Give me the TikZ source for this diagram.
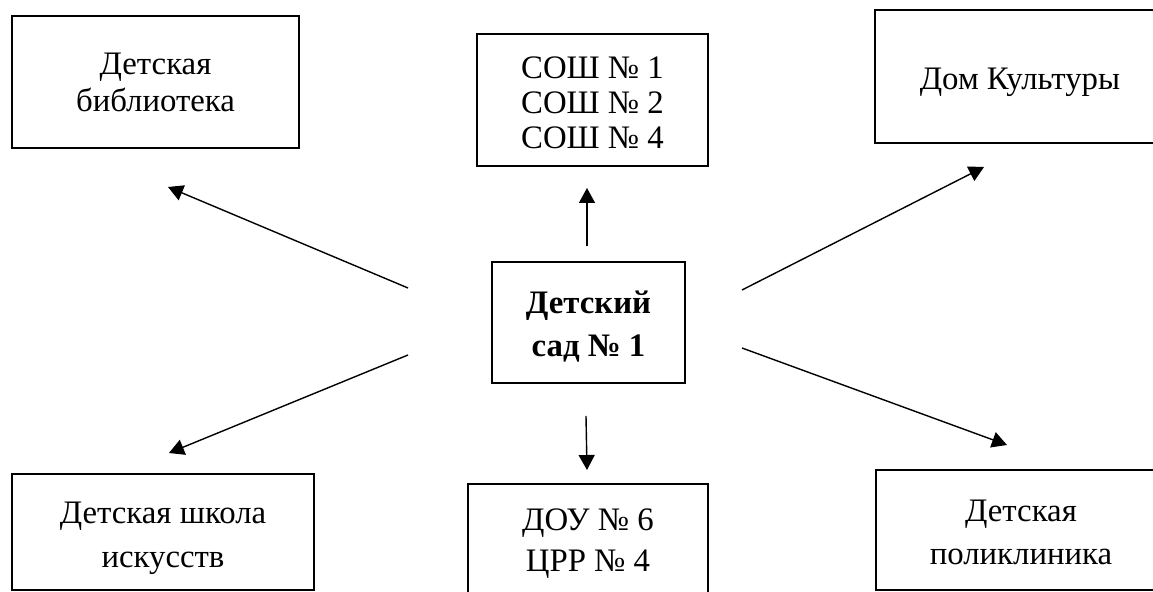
\documentclass[tikz,border=0pt]{standalone}
\usepackage{fontspec}
\setmainfont{Liberation Serif}
\usetikzlibrary{arrows.meta}
\begin{document}
\begin{tikzpicture}[x=0.5pt,y=-0.5pt,
  box/.style={draw=black,line width=0.9pt,rectangle,inner sep=0pt,anchor=center},
  txt/.style={inner sep=0pt,align=center,anchor=center},
  link/.style={line width=0.7pt,-{Triangle[length=7.5pt,width=8pt]}},
  fs/.style={font=\fontsize{16.4}{#1}\selectfont},
  fb/.style={font=\fontsize{16.4}{#1}\selectfont\bfseries}]
\useasboundingbox (0,0) rectangle (1153,592);
\clip (0,0) rectangle (1153,592);
\node[box,minimum width=143.5pt,minimum height=66pt] (lib) at (155.5,82) {};
\node[txt,fs=18.5] (lib-t) at ([yshift=0pt]lib.center) {Детская\\библиотека};
\node[box,minimum width=115.5pt,minimum height=66pt] (sosh) at (592.5,100) {};
\node[txt,fs=17.5] (sosh-t) at ([yshift=-1.5pt]sosh.center) {СОШ № 1\\СОШ № 2\\СОШ № 4};
\node[box,minimum width=145pt,minimum height=66.5pt] (dom) at (1020,76.5) {};
\node[txt,fs=18] (dom-t) at ([yshift=-3pt]dom.center) {Дом Культуры};
\node[box,minimum width=96.5pt,minimum height=60.5pt] (ds) at (588.5,322.5) {};
\node[txt,fb=21.5] (ds-t) at ([yshift=-2pt]ds.center) {Детский\\сад № 1};
\node[box,minimum width=151pt,minimum height=58pt] (arts) at (163,532) {};
\node[txt,fs=22] (arts-t) at ([yshift=-3pt]arts.center) {Детская школа\\искусств};
\node[box,minimum width=120pt,minimum height=58.5pt] (dou) at (588,542.5) {};
\node[txt,fs=20.5] (dou-t) at ([yshift=-0.5pt]dou.center) {ДОУ № 6\\ЦРР № 4};
\node[box,minimum width=145pt,minimum height=60pt] (poly) at (1021,530) {};
\node[txt,fs=21.5] (poly-t) at ([yshift=-1pt]poly.center) {Детская\\поликлиника};
\coordinate (s1) at (408,288); \coordinate (t1) at (168,187);
\coordinate (s2) at (587,246); \coordinate (t2) at (587,188);
\coordinate (s3) at (742,290); \coordinate (t3) at (984,167);
\coordinate (s4) at (408,355); \coordinate (t4) at (169,453);
\coordinate (s5) at (586,416); \coordinate (t5) at (587,470);
\coordinate (s6) at (742,348); \coordinate (t6) at (1007,445);
\draw[link] (s1) -- (t1);
\draw[link] (s2) -- (t2);
\draw[link] (s3) -- (t3);
\draw[link] (s4) -- (t4);
\draw[link] (s5) -- (t5);
\draw[link] (s6) -- (t6);
\end{tikzpicture}
\end{document}
